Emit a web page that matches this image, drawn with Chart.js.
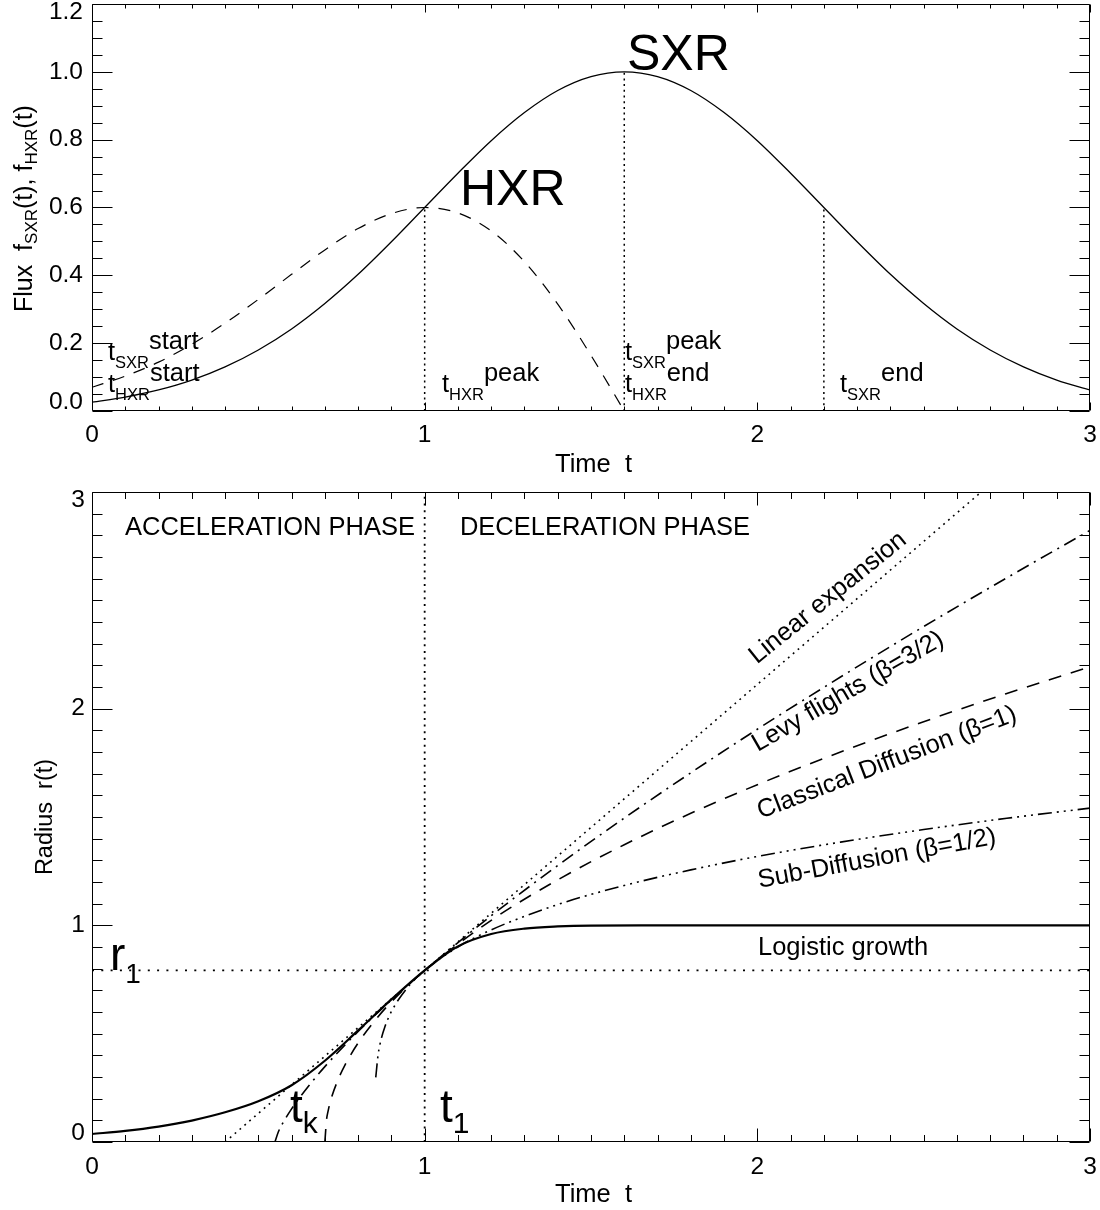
<!DOCTYPE html>
<html>
<head>
<meta charset="utf-8">
<script src="https://cdn.jsdelivr.net/npm/chart.js@4.4.1/dist/chart.umd.min.js"></script>
<style>
html,body{margin:0;padding:0;background:#fff;}
.wrap{position:absolute;left:0;width:1100px;}
canvas{display:block;}
</style>
</head>
<body>
<div class="wrap" style="top:0;height:480px"><canvas id="fluxChart" width="1100" height="480" style="width:1100px;height:480px"></canvas></div>
<div class="wrap" style="top:480px;height:730px"><canvas id="radiusChart" width="1100" height="730" style="width:1100px;height:730px"></canvas></div>
<script>
// ---------------- DATA ----------------
// Top panel: flux time profiles
const sxrTime = [0,0.1,0.2,0.3,0.4,0.5,0.6,0.7,0.8,0.9,1.0,1.1,1.2,1.3,1.4,1.5,1.6,1.7,1.8,1.9,2.0,2.1,2.2,2.3,2.4,2.5,2.6,2.7,2.8,2.9,3.0];
const sxrFlux = [0.026,0.041,0.062,0.091,0.130,0.180,0.242,0.317,0.403,0.499,0.600,0.701,0.797,0.880,0.945,0.986,1.000,0.986,0.945,0.880,0.797,0.701,0.600,0.499,0.403,0.317,0.242,0.180,0.130,0.091,0.062];
const hxrTime = [0,0.1,0.2,0.3,0.4,0.5,0.6,0.7,0.8,0.9,1.0,1.1,1.2,1.3,1.4,1.5,1.6];
const hxrFlux = [0.070,0.103,0.144,0.197,0.259,0.329,0.403,0.475,0.538,0.582,0.600,0.584,0.531,0.440,0.315,0.164,0.000];
const markerTimes = [1.0, 1.6, 2.2];   // t_HXR peak, t_SXR peak = t_HXR end, t_SXR end
const markerFlux  = [0.6, 1.0, 0.6];
const fluxTicks = [0,0.2,0.4,0.6,0.8,1.0,1.2];
const timeTicks = [0,1,2,3];

// Bottom panel: radius evolution
const logisticTime   = [0,0.1,0.2,0.3,0.4,0.5,0.6,0.7,0.8,0.9,1.0,1.1,1.2,1.3,1.4,1.5,1.7,2.0,2.5,3.0];
const logisticRadius = [0.037,0.051,0.071,0.099,0.137,0.188,0.262,0.375,0.515,0.658,0.792,0.903,0.960,0.985,0.995,0.999,1.0,1.0,1.0,1.0];
const linearTime   = [0.4, 1.0, 2.673];
const linearRadius = [0.0, 0.792, 3.0];
const levyTime   = [0.55,0.56,0.58,0.6,0.65,0.7,0.8,0.9,1.0,1.2,1.4,1.6,1.8,2.0,2.25,2.5,2.75,3.0];
const levyRadius = [0,0.046,0.104,0.153,0.256,0.348,0.510,0.656,0.792,1.044,1.276,1.495,1.704,1.905,2.146,2.379,2.604,2.823];
const diffTime   = [0.7,0.705,0.71,0.72,0.74,0.76,0.8,0.85,0.9,1.0,1.2,1.4,1.6,1.8,2.0,2.25,2.5,2.75,3.0];
const diffRadius = [0,0.102,0.145,0.205,0.289,0.354,0.457,0.560,0.647,0.792,1.023,1.210,1.372,1.517,1.649,1.800,1.940,2.070,2.193];
const subTime   = [0.853,0.86,0.87,0.88,0.9,0.95,1.0,1.1,1.2,1.4,1.6,1.8,2.0,2.25,2.5,2.75,3.0];
const subRadius = [0.298,0.402,0.479,0.530,0.602,0.716,0.792,0.900,0.979,1.096,1.184,1.256,1.318,1.384,1.442,1.494,1.541];
const t1 = 1.0;
const r1 = 0.792;
const radiusTicks = [0,1,2,3];

// ---------------- helpers ----------------
const FONT = '"Liberation Sans", Arial, Helvetica, sans-serif';
const FS = 25.5;   // ordinary annotation text size
const SUB = 16.5;  // subscript size
Chart.defaults.font.family = FONT;
Chart.defaults.color = '#000';
const zip = (xs, ys) => xs.map((x, i) => ({x: x, y: ys[i]}));

function txt(ctx, s, x, y, size, align, base) {
  ctx.font = size + 'px ' + FONT;
  ctx.textAlign = align || 'left';
  ctx.textBaseline = base || 'alphabetic';
  ctx.fillStyle = '#000';
  ctx.fillText(s, x, y);
  return ctx.measureText(s).width;
}
// main glyph + subscript + raised word, e.g. t_SXR start
function subLabel(ctx, x, y, main, sub, word, size, subSize, drop, rise) {
  const w = txt(ctx, main, x, y, size);
  const w2 = sub ? txt(ctx, sub, x + w, y + drop, subSize) : 0;
  if (word) txt(ctx, word, x + w + w2, y - rise, size);
}

function frame(opt) {
  return {
    id: 'frame_' + opt.name,
    afterDatasetsDraw(chart) {
      const ctx = chart.ctx, a = chart.chartArea;
      const xs = chart.scales.x, ys = chart.scales.y;
      ctx.save();
      ctx.strokeStyle = '#000';
      ctx.lineWidth = 1;
      ctx.setLineDash([]);
      const L = Math.round(a.left) + 0.5, R = Math.round(a.right) - 0.5;
      const T = Math.round(a.top) + 0.5, B = Math.round(a.bottom) - 0.5;
      ctx.beginPath();
      ctx.rect(L, T, R - L, B - T);
      // x ticks (inside, bottom and top)
      const nx = Math.round((xs.max - xs.min) / opt.xMinor);
      for (let i = 0; i <= nx; i++) {
        const v = xs.min + i * opt.xMinor;
        const px = Math.round(xs.getPixelForValue(v)) + 0.5;
        const len = (i % opt.xPer === 0) ? opt.xMaj : opt.xMin;
        ctx.moveTo(px, B); ctx.lineTo(px, B - len);
        ctx.moveTo(px, T); ctx.lineTo(px, T + len);
      }
      const ny = Math.round((ys.max - ys.min) / opt.yMinor);
      for (let i = 0; i <= ny; i++) {
        const v = ys.min + i * opt.yMinor;
        const py = Math.round(ys.getPixelForValue(v)) + 0.5;
        const len = (i % opt.yPer === 0) ? opt.yMaj : opt.yMin;
        ctx.moveTo(L, py); ctx.lineTo(L + len, py);
        ctx.moveTo(R, py); ctx.lineTo(R - len, py);
      }
      ctx.stroke();
      // y tick labels (first/last pulled inside like the reference)
      ys.ticks.forEach((tk) => {
        let py = ys.getPixelForValue(tk.value);
        if (Math.abs(tk.value - ys.min) < 1e-9) py -= 9;
        if (Math.abs(tk.value - ys.max) < 1e-9) py += 8;
        txt(ctx, opt.yFmt(tk.value), a.left - opt.yLabelGap, py, 24.5, 'right', 'middle');
      });
      opt.draw(ctx, xs, ys, a);
      ctx.restore();
    }
  };
}

const base = {
  pointRadius: 0, pointHoverRadius: 0, borderColor: '#000', backgroundColor: '#000',
  fill: false, cubicInterpolationMode: 'monotone'
};
const straight = {tension: 0, cubicInterpolationMode: 'default'};

function scalesFor(ymax, xHeight, xPad, ticksY) {
  return {
    x: {
      type: 'linear', min: 0, max: 3,
      afterFit(s) { s.height = xHeight; s.paddingLeft = 0; s.paddingRight = 0; },
      afterBuildTicks(s) { s.ticks = timeTicks.map(v => ({value: v})); },
      ticks: {font: {size: 24.5}, color: '#000', padding: xPad, maxRotation: 0, autoSkip: false,
              callback: (v) => String(v)},
      grid: {display: false, drawTicks: false}, border: {display: false}
    },
    y: {
      type: 'linear', min: 0, max: ymax,
      afterFit(s) { s.width = 92; s.paddingTop = 0; s.paddingBottom = 0; },
      afterBuildTicks(s) { s.ticks = ticksY.map(v => ({value: v})); },
      ticks: {display: false},
      grid: {display: false, drawTicks: false}, border: {display: false}
    }
  };
}

// ---------------- TOP CHART ----------------
new Chart(document.getElementById('fluxChart'), {
  type: 'line',
  data: {
    datasets: [
      Object.assign({}, base, straight, {data: [{x: markerTimes[0], y: 0}, {x: markerTimes[0], y: markerFlux[0]}], borderWidth: 1.5, borderDash: [2, 3.7]}),
      Object.assign({}, base, straight, {data: [{x: markerTimes[1], y: 0}, {x: markerTimes[1], y: markerFlux[1]}], borderWidth: 1.5, borderDash: [2, 3.7]}),
      Object.assign({}, base, straight, {data: [{x: markerTimes[2], y: 0}, {x: markerTimes[2], y: markerFlux[2]}], borderWidth: 1.5, borderDash: [2, 3.7]}),
      Object.assign({}, base, {label: 'HXR', data: zip(hxrTime, hxrFlux), borderWidth: 1.2, borderDash: [12, 10]}),
      Object.assign({}, base, {label: 'SXR', data: zip(sxrTime, sxrFlux), borderWidth: 1.3})
    ]
  },
  options: {
    responsive: false, animation: false, events: [],
    layout: {padding: {left: 0, right: 10, top: 4, bottom: 0}},
    plugins: {legend: {display: false}, tooltip: {enabled: false}},
    scales: scalesFor(1.2, 69, 10, fluxTicks)
  },
  plugins: [frame({
    name: 'top', xMinor: 0.1, xPer: 10, xMaj: 8, xMin: 4, yMinor: 0.05, yPer: 4, yMaj: 20, yMin: 10,
    yLabelGap: 9, yFmt: (v) => v.toFixed(1),
    draw(ctx, xs, ys) {
      const X = (t) => xs.getPixelForValue(t), Y = (v) => ys.getPixelForValue(v);
      txt(ctx, 'SXR', X(1.608), Y(1.005), 50);
      txt(ctx, 'HXR', X(1.106), Y(0.607), 50);
      const rowA = 0.1493, rowB = 0.0552;
      subLabel(ctx, X(0.048), Y(rowA), 't', 'SXR', 'start', FS, SUB, 7.5, 11.5);
      subLabel(ctx, X(0.048), Y(rowB), 't', 'HXR', 'start', FS, SUB, 7.5, 11.5);
      subLabel(ctx, X(1.052), Y(rowB), 't', 'HXR', 'peak', FS, SUB, 7.5, 11.5);
      subLabel(ctx, X(1.602), Y(rowA), 't', 'SXR', 'peak', FS, SUB, 7.5, 11.5);
      subLabel(ctx, X(1.602), Y(rowB), 't', 'HXR', 'end', FS, SUB, 7.5, 11.5);
      subLabel(ctx, X(2.2485), Y(rowB), 't', 'SXR', 'end', FS, SUB, 7.5, 11.5);
      // axis titles
      txt(ctx, 'Time  t', 555, 465, FS, 'left', 'middle');
      ctx.save();
      ctx.translate(31.5, 312);
      ctx.rotate(-Math.PI / 2);
      let cx = 0;
      cx += txt(ctx, 'Flux  f', cx, 0, 25);
      cx += txt(ctx, 'SXR', cx, 5.5, 17);
      cx += txt(ctx, '(t), f', cx, 0, 25);
      cx += txt(ctx, 'HXR', cx, 5.5, 17);
      txt(ctx, '(t)', cx, 0, 25);
      ctx.restore();
    }
  })]
});

// ---------------- BOTTOM CHART ----------------
new Chart(document.getElementById('radiusChart'), {
  type: 'line',
  data: {
    datasets: [
      Object.assign({}, base, straight, {data: [{x: 0, y: r1}, {x: 3, y: r1}], borderWidth: 1.8, borderDash: [2, 7.3]}),
      Object.assign({}, base, straight, {data: [{x: t1, y: 0}, {x: t1, y: 3}], borderWidth: 1.8, borderDash: [2, 4.7]}),
      Object.assign({}, base, straight, {label: 'Linear expansion', data: zip(linearTime, linearRadius), borderWidth: 1.6, borderDash: [1.8, 4.6]}),
      Object.assign({}, base, {label: 'Levy flights', data: zip(levyTime, levyRadius), borderWidth: 1.6, borderDash: [13, 6, 2, 6]}),
      Object.assign({}, base, {label: 'Classical Diffusion', data: zip(diffTime, diffRadius), borderWidth: 1.6, borderDash: [13, 10]}),
      Object.assign({}, base, {label: 'Sub-Diffusion', data: zip(subTime, subRadius), borderWidth: 1.6, borderDash: [14, 5, 2, 5, 2, 5, 2, 5]}),
      Object.assign({}, base, {label: 'Logistic growth', data: zip(logisticTime, logisticRadius), borderWidth: 2.2})
    ]
  },
  options: {
    responsive: false, animation: false, events: [],
    layout: {padding: {left: 0, right: 10, top: 12, bottom: 0}},
    plugins: {legend: {display: false}, tooltip: {enabled: false}},
    scales: scalesFor(3, 68, 11, radiusTicks)
  },
  plugins: [frame({
    name: 'bottom', xMinor: 0.1, xPer: 10, xMaj: 13, xMin: 6.5, yMinor: 0.1, yPer: 10, yMaj: 20, yMin: 10,
    yLabelGap: 7, yFmt: (v) => String(Math.round(v)),
    draw(ctx, xs, ys) {
      const X = (t) => xs.getPixelForValue(t), Y = (v) => ys.getPixelForValue(v);
      txt(ctx, 'ACCELERATION PHASE', X(0.0992), Y(2.802), FS);
      txt(ctx, 'DECELERATION PHASE', X(1.106), Y(2.802), FS);
      const rot = (s, t, v, deg) => {
        ctx.save();
        ctx.translate(X(t), Y(v));
        ctx.rotate(-deg * Math.PI / 180);
        txt(ctx, s, 0, 0, FS, 'center', 'middle');
        ctx.restore();
      };
      rot('Linear expansion', 2.2124, 2.511, 39);
      rot('Levy flights (\u03B2=3/2)', 2.2725, 2.0777, 30);
      rot('Classical Diffusion (\u03B2=1)', 2.3897, 1.750, 21);
      rot('Sub-Diffusion (\u03B2=1/2)', 2.3597, 1.307, 10.5);
      txt(ctx, 'Logistic growth', X(2.002), Y(0.8646), FS);
      subLabel(ctx, X(0.0541), Y(0.7952), 'r', '1', '', 46, 28, 13, 0);
      subLabel(ctx, X(0.5952), Y(0.0937), 't', 'k', '', 46, 30, 11, 0);
      subLabel(ctx, X(1.0461), Y(0.0937), 't', '1', '', 46, 30, 11, 0);
      // axis titles
      txt(ctx, 'Time  t', 555, 715, FS, 'left', 'middle');
      ctx.save();
      ctx.translate(52, 337);
      ctx.rotate(-Math.PI / 2);
      txt(ctx, 'Radius  r(t)', 0, 0, 23.5, 'center', 'alphabetic');
      ctx.restore();
    }
  })]
});
</script>
</body>
</html>
